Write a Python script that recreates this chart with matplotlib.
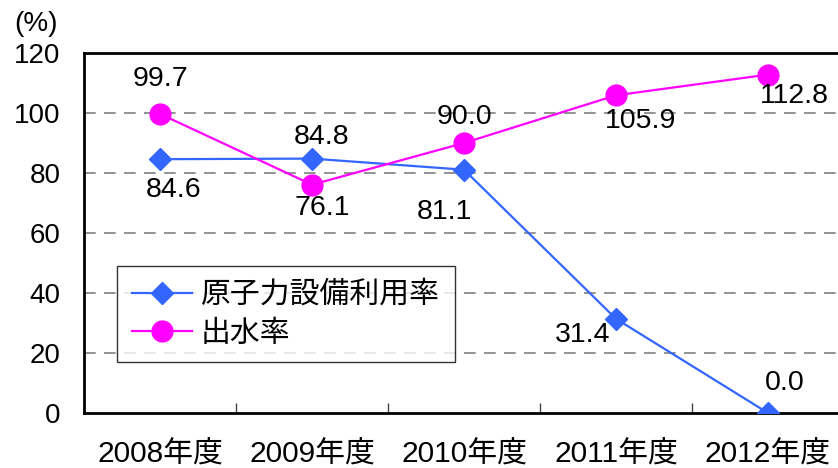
import numpy as np
import matplotlib
matplotlib.use("Agg")
import matplotlib.pyplot as plt

plt.rcParams['font.family'] = ['Liberation Sans', 'Noto Sans CJK JP', 'DejaVu Sans']

# dati
anni = ['2008年度', '2009年度', '2010年度', '2011年度', '2012年度']
nucleare = [84.6, 84.8, 81.1, 31.4, 0.0]
acqua = [99.7, 76.1, 90.0, 105.9, 112.8]
nome_nucleare = '原子力設備利用率'
nome_acqua = '出水率'

# spostamenti delle etichette (pixel)
off_nucleare = [(14, -31), (10, 22), (-20, -42), (-33, -16), (17, 30)]
off_acqua = [(0, 35), (10, -23), (0, 26), (25, -26), (26, -21)]

fig = plt.figure(figsize=(8.38, 4.68), dpi=100)
ax = fig.add_axes([84 / 838, 55 / 468, 760 / 838, 360 / 468])

x = np.arange(len(anni))
ax.plot(x, nucleare, color='#3366ff', lw=1.6, marker='D', markersize=11.5,
        label=nome_nucleare, zorder=3)
ax.plot(x, acqua, color='#ff00ff', lw=1.6, marker='o', markersize=15,
        label=nome_acqua, zorder=3)

for i in range(len(anni)):
    ax.annotate(f'{nucleare[i]:.1f}', (x[i], nucleare[i]), xytext=off_nucleare[i],
                textcoords='offset pixels', ha='center', va='center', fontsize=20.5)
    ax.annotate(f'{acqua[i]:.1f}', (x[i], acqua[i]), xytext=off_acqua[i],
                textcoords='offset pixels', ha='center', va='center', fontsize=20.5)

ax.set_xlim(-0.5, len(anni) - 0.5)
ax.set_ylim(0, 120)
ax.set_yticks(np.arange(0, 121, 20))
for v in range(20, 120, 20):
    ax.axhline(v, color='#808080', lw=1.2, ls=(0, (7, 5)), zorder=1)

ax.set_xticks(np.arange(0.5, len(anni) - 0.5, 1))
ax.set_xticklabels([])
ax.set_xticks(x, minor=True)
ax.set_xticklabels(anni, minor=True, fontsize=21.5)
ax.tick_params(axis='x', which='major', direction='in', length=7, width=1, color='#444444')
ax.tick_params(axis='x', which='minor', length=0, pad=20)
ax.tick_params(axis='y', length=0, pad=17, labelsize=20)

for s in ['left', 'bottom', 'top']:
    ax.spines[s].set_linewidth(2)
ax.spines['right'].set_visible(False)

leg = ax.legend(loc='upper left', bbox_to_anchor=(0.0434, 0.408), borderaxespad=0,
                fontsize=21.5, frameon=True, fancybox=False, handlelength=2.0,
                handletextpad=0.3, labelspacing=0.35, borderpad=0.5)
leg.get_frame().set_edgecolor('black')
leg.get_frame().set_linewidth(1)

fig.text(14 / 838, 1 - 24 / 468, '(%)', fontsize=20, va='center', ha='left')

fig.savefig('out.png', dpi=100)
